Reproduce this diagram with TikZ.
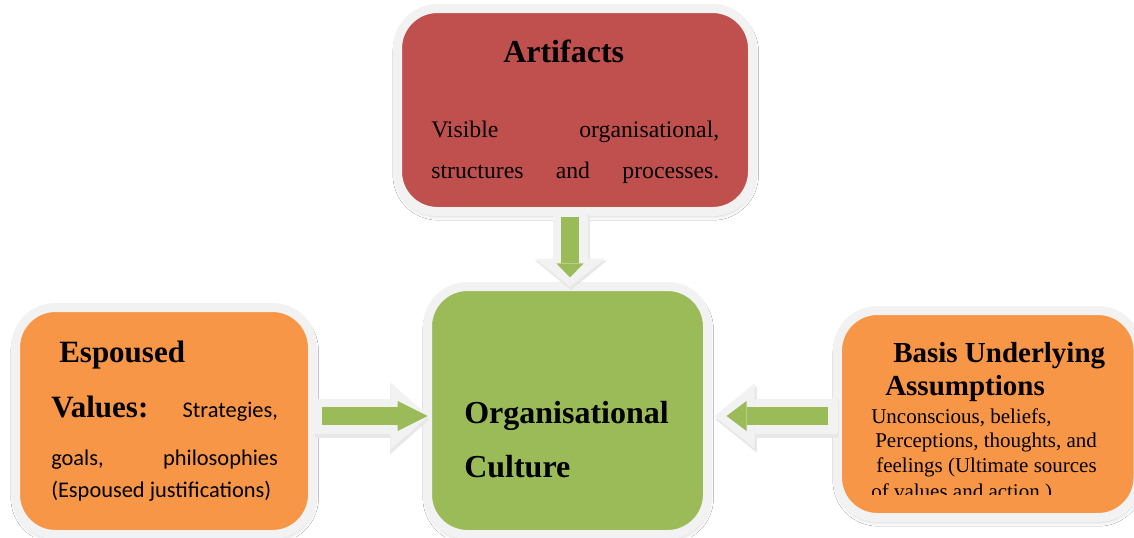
\documentclass[tikz,border=0pt]{standalone}
\usepackage{fontspec}
\setmainfont{Liberation Serif}
\newfontfamily\carl{Carlito}
\usetikzlibrary{arrows.meta,calc,shadows.blur}
\definecolor{artred}{HTML}{C0504D}
\definecolor{ocgreen}{HTML}{9BBB59}
\definecolor{orng}{HTML}{F79646}
\definecolor{rim}{HTML}{F2F2F2}
\begin{document}
\begin{tikzpicture}[x=0.75pt,y=-0.75pt,
  box/.style={draw=rim, line width=6.75pt, rounded corners=30pt, inner sep=0pt,
    blur shadow={shadow xshift=0.5pt, shadow yshift=-2.5pt, shadow blur radius=4pt, shadow opacity=30}},
  txt/.style={inner sep=0pt, anchor=base west, text=black},
  outerarrow/.style={draw=rim, line width=26.25pt},
  shadowarrow/.style={draw=black!9, line width=27.75pt, transform canvas={shift={(0.75pt,-2.6pt)}}},
  innerarrow/.style={draw=ocgreen, line width=13.5pt}]
\useasboundingbox (0,0) rectangle (1134,537);
\fill[white] (0,0) rectangle (1134,537);

% boxes
\node[box, fill=artred, minimum width=266.25pt, minimum height=152.25pt] (art) at (575,110) {};
\node[box, fill=ocgreen, minimum width=210pt, minimum height=186pt] (oc) at (567.5,410.5) {};
\node[box, fill=orng, minimum width=222.75pt, minimum height=170.25pt] (esp) at (164,421) {};
\node[box, fill=orng, minimum width=225.4pt, minimum height=155.25pt] (bas) at (987.75,414) {};

% arrow shadows
\draw[shadowarrow, -{Triangle[width=54pt,length=22pt,line width=0pt]}, shorten <=-3.4pt, shorten >=-3.4pt]
  ($(art.south -| oc.north)+(2.5,0)$) -- ($(oc.north)+(2.5,0)$);
\draw[shadowarrow, -{Triangle[width=52pt,length=29.5pt,line width=0pt]}, shorten <=-2.6pt, shorten >=-4.1pt]
  ($(esp.east |- oc.west)+(0,5.5)$) -- ($(oc.west)+(0,5.5)$);
\draw[shadowarrow, -{Triangle[width=50pt,length=31pt,line width=0pt]}, shorten <=-3.4pt, shorten >=1.9pt]
  ($(bas.west |- oc.east)+(0,5.5)$) -- ($(oc.east)+(0,5.5)$);

% down arrow
\draw[outerarrow, -{Triangle[width=52.5pt,length=21pt,line width=0pt]}, shorten <=-3.4pt, shorten >=-3.4pt]
  ($(art.south -| oc.north)+(2.5,0)$) -- ($(oc.north)+(2.5,0)$);
\draw[innerarrow, -{Triangle[width=20.25pt,length=10.5pt,line width=0pt]}, shorten <=1.1pt, shorten >=3.4pt]
  ($(art.south -| oc.north)+(2.5,0)$) -- ($(oc.north)+(2.5,0)$);

% left arrow
\draw[outerarrow, -{Triangle[width=50.25pt,length=28.5pt,line width=0pt]}, shorten <=-2.6pt, shorten >=-4.1pt]
  ($(esp.east |- oc.west)+(0,5.5)$) -- ($(oc.west)+(0,5.5)$);
\draw[innerarrow, -{Triangle[width=22.5pt,length=22.5pt,line width=0pt]}, shorten <=3.4pt, shorten >=-3.4pt]
  ($(esp.east |- oc.west)+(0,5.5)$) -- ($(oc.west)+(0,5.5)$);

% right arrow
\draw[outerarrow, -{Triangle[width=48.75pt,length=30pt,line width=0pt]}, shorten <=-3.4pt, shorten >=1.9pt]
  ($(bas.west |- oc.east)+(0,5.5)$) -- ($(oc.east)+(0,5.5)$);
\draw[innerarrow, -{Triangle[width=22.5pt,length=15pt,line width=0pt]}, shorten <=3.4pt, shorten >=10.9pt]
  ($(bas.west |- oc.east)+(0,5.5)$) -- ($(oc.east)+(0,5.5)$);

% Artifacts text
\node[txt, font=\fontsize{24}{28}\selectfont\bfseries] (artt) at (503,62) {Artifacts};
\node[txt, font=\fontsize{17.8}{21}\selectfont] (art1) at (431,137) {\makebox[216pt][s]{Visible organisational,}};
\node[txt, font=\fontsize{17.8}{21}\selectfont] (art2) at (431,178) {\makebox[216pt][s]{structures and processes.}};

% Organisational Culture
\node[txt, font=\fontsize{24}{28}\selectfont\bfseries] (oc1) at (464,423) {Organisational};
\node[txt, font=\fontsize{24}{28}\selectfont\bfseries] (oc2) at (464,477) {Culture};

% Espoused
\node[txt, font=\fontsize{23.25}{28}\selectfont\bfseries] (esp1) at (59,362) {Espoused};
\node[txt, font=\carl\fontsize{16.8}{20}\selectfont] (esp2) at (51,417)
  {\makebox[170pt][s]{{\rmfamily\bfseries\fontsize{23.25}{28}\selectfont Values:} Strategies,}};
\node[txt, font=\carl\fontsize{16.8}{20}\selectfont] (esp3) at (51,465) {\makebox[170pt][s]{goals, philosophies}};
\node[txt, font=\carl\fontsize{16.8}{20}\selectfont] (esp4) at (51,497) {(Espoused justifications)};

% Basis
\node[txt, font=\fontsize{21.75}{26}\selectfont\bfseries] (bas1) at (893,362) {Basis Underlying};
\node[txt, font=\fontsize{21.75}{26}\selectfont\bfseries] (bas2) at (885,395) {Assumptions};
\node[txt, font=\fontsize{15.75}{19}\selectfont] (bas3) at (871,423) {Unconscious, beliefs,};
\node[txt, font=\fontsize{15.75}{19}\selectfont] (bas4) at (875,447) {Perceptions, thoughts, and};
\node[txt, font=\fontsize{15.75}{19}\selectfont] (bas5) at (876,472) {feelings (Ultimate sources};
\begin{scope}
  \clip (840,478) rectangle (1134,494);
  \node[txt, font=\fontsize{15.75}{19}\selectfont] (bas6) at (871,498) {of values and action )};
\end{scope}
\end{tikzpicture}
\end{document}
